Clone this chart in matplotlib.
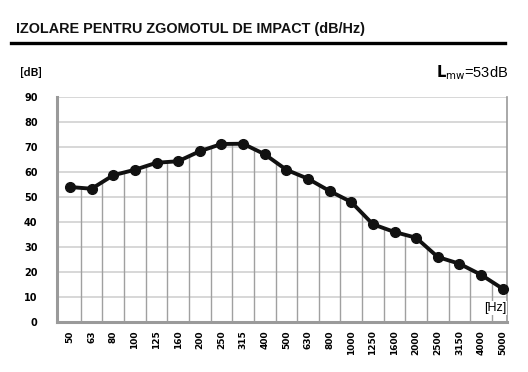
import numpy as np
import matplotlib
matplotlib.use("Agg")
import matplotlib.pyplot as plt
from matplotlib.lines import Line2D

# Datos
frecuencias = ["50", "63", "80", "100", "125", "160", "200", "250", "315", "400",
               "500", "630", "800", "1000", "1250", "1600", "2000", "2500", "3150",
               "4000", "5000"]
valores_db = [54.0, 53.3, 58.7, 60.9, 63.7, 64.3, 68.3, 71.2, 71.3, 67.1,
              60.9, 57.3, 52.4, 48.0, 39.1, 36.0, 33.7, 26.0, 23.3, 18.9, 13.3]
ticks_y = [0, 10, 20, 30, 40, 50, 60, 70, 80, 90]

W, H = 528, 372
fig = plt.figure(figsize=(W / 100, H / 100), dpi=100)
fig.patch.set_facecolor("white")

# Titulo y linea inferior
fig.text(16 / W, 1 - 29 / H, "IZOLARE PENTRU ZGOMOTUL DE IMPACT (dB/Hz)",
         fontsize=10.4, fontweight="bold", family="Liberation Sans",
         va="center", ha="left", color="#111111")
fig.add_artist(Line2D([11 / W, 505 / W], [1 - 43 / H, 1 - 43 / H],
                      transform=fig.transFigure, color="black", lw=2.4))

fig.text(20 / W, 1 - 73 / H, "[dB]", fontsize=8.5, family="Lato",
         fontweight="bold", va="center", ha="left")
fig.text(508 / W, 1 - 73 / H, r"$\mathbf{L}_{\mathrm{mw}}$=53dB", fontsize=10.5,
         family="Liberation Sans", va="center", ha="right")

ax = fig.add_axes([57 / W, 1 - 322 / H, 450 / W, 225 / H])
x = np.arange(len(frecuencias))
ax.set_xlim(-0.6, 20.2)
ax.set_ylim(0, 90)

# Lineas horizontales de la cuadricula
for v in ticks_y[1:]:
    ax.axhline(v, color="#d4d4d4", lw=1.3, zorder=1)

# Lineas verticales hasta la curva
bordes = x[:-1] + 0.5
alturas = np.interp(bordes, x, valores_db)
ax.vlines(bordes, 0, alturas, color="#a0a0a0", lw=1.0, zorder=1)

ax.plot(x, valores_db, color="#111111", lw=2.8, marker="o", markersize=7,
        zorder=3, clip_on=False)

ax.spines["top"].set_visible(False)
ax.spines["left"].set_color("#9a9a9a")
ax.spines["left"].set_linewidth(2.2)
ax.spines["bottom"].set_color("#9a9a9a")
ax.spines["bottom"].set_linewidth(2.2)
ax.spines["right"].set_color("#9a9a9a")
ax.spines["right"].set_linewidth(1.2)

ax.set_yticks(ticks_y)
ax.set_yticklabels([str(t) for t in ticks_y], fontsize=7, fontweight="bold",
                   family="DejaVu Sans")
ax.set_xticks(x)
ax.set_xticklabels(frecuencias, rotation=90, fontsize=6.5, fontweight="bold",
                   family="DejaVu Sans")
ax.tick_params(axis="y", length=0, pad=14)
ax.tick_params(axis="x", length=0, pad=6)

ax.text(0.998, 0.035, "[Hz]", transform=ax.transAxes, fontsize=9,
        family="Liberation Sans", ha="right", va="bottom", zorder=4,
        bbox=dict(facecolor="white", edgecolor="none", pad=0.5))

fig.savefig("out.png", dpi=100)
